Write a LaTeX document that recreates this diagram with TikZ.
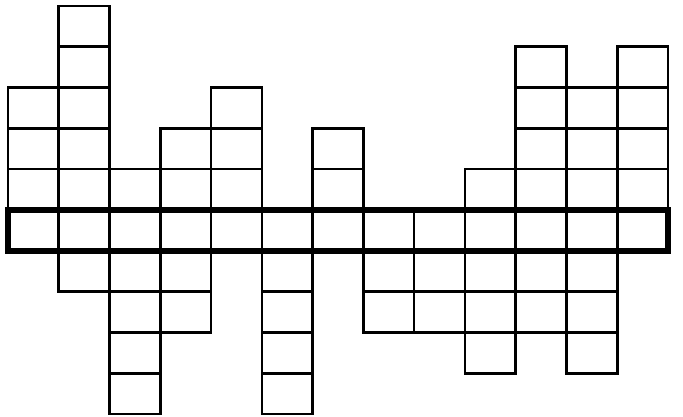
\documentclass[tikz,border=0pt]{standalone}
\begin{document}
\begin{tikzpicture}[x=1pt,y=-1pt,
  cell/.style={draw=black,line width=2.6pt},
  band/.style={draw=black,line width=6pt}]
\useasboundingbox (0,0) rectangle (683,417);
\def\cw{50.77}
\def\rh{40.8}
% thin cells above and below the band
\foreach \c/\rows in {0/{2,3,4},1/{0,1,2,3,4,6},2/{4,6,7,8,9},3/{3,4,6,7},4/{2,3,4},
  5/{6,7,8,9},6/{3,4},7/{6,7},8/{6,7},9/{4,6,7,8},10/{1,2,3,4,6,7},11/{2,3,4,6,7,8},12/{1,2,3,4}}{
  \foreach \r in \rows {
    \draw[cell] ({8+\c*\cw},{6+\r*\rh}) rectangle ++(\cw,\rh);
  }
}
% band row
\foreach \c in {0,...,12}{
  \draw[cell] ({8+\c*\cw},{6+5*\rh}) rectangle ++(\cw,\rh);
}
\draw[band] (8,{6+5*\rh}) rectangle ({8+13*\cw},{6+6*\rh});
\end{tikzpicture}
\end{document}
